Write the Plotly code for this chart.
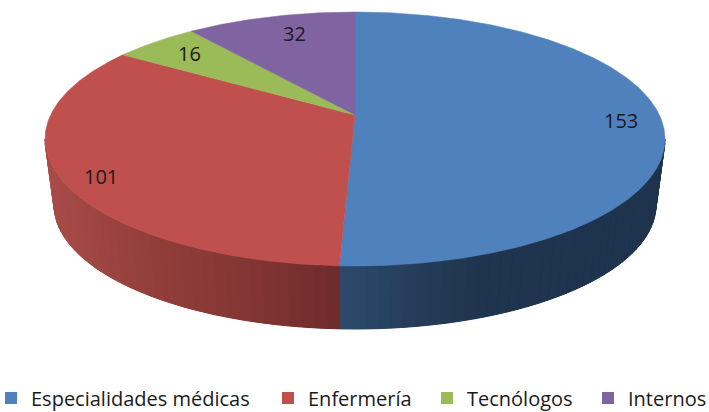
import numpy as np
import plotly.graph_objects as go

categories = ["Especialidades médicas", "Enfermería", "Tecnólogos", "Internos"]
values = [153, 101, 16, 32]

TOP_COLORS = ["#4F81BD", "#C0504D", "#9BBB59", "#8064A2"]
LABEL_SHIFT = [(6, -3), (-6, -10), (7, -2), (13, -4)]
LEGEND_TEXT_X = [31, 308, 467, 628]
FONT = "Open Sans"
FONT_SIZE = 20

# Tilted disc geometry (pixel-valued axes)
CX, CY, RX, RY = 355.0, 139.0, 310.0, 127.0
BCX, BCY, BRX, BRY = 355.0, 205.0, 301.0, 124.0
C = 0.189  # perspective: how far the disc centre appears above the ellipse centre


def project(t, r=1.0, cx=CX, cy=CY, rx=RX, ry=RY):
    """t: clockwise angle from 12 o'clock in degrees, r: fraction of radius."""
    a = np.radians(t)
    u, v = r * np.sin(a), r * np.cos(a)
    w = 1 + C * v
    return cx + rx * np.sqrt(1 - C**2) * u / w, cy - ry * (v + C) / w


def lerp_color(x, stops):
    xs = [s[0] for s in stops]
    rgb = [np.interp(x, xs, [s[1][i] for s in stops]) for i in range(3)]
    return "rgb(%d,%d,%d)" % tuple(round(c) for c in rgb)


BLUE_WALL = [(340, (44, 74, 108)), (400, (39, 64, 94)), (480, (31, 52, 78)), (670, (30, 51, 77))]
RED_WALL = [(45, (168, 76, 73)), (150, (146, 62, 59)), (260, (128, 52, 50)), (340, (110, 43, 42))]

total = sum(values)
edges = np.concatenate([[0], np.cumsum(values)]) / total * 360

fig = go.Figure()

# Side wall: a solid silhouette, then narrow bands so the shading runs across it
t_edge = 90 + np.degrees(np.arcsin(C))
for start, end, stops, base in [(t_edge, edges[1], BLUE_WALL, "rgb(32,54,81)"),
                                (edges[1], 360 - t_edge, RED_WALL, "rgb(135,55,53)")]:
    ts = np.linspace(start, end, 121)
    tx, ty = project(ts)
    bx, by = project(ts, 1, BCX, BCY, BRX, BRY)
    fig.add_trace(go.Scatter(
        x=np.concatenate([tx, bx[::-1], tx[:1]]), y=np.concatenate([ty, by[::-1], ty[:1]]),
        mode="lines", fill="toself", fillcolor=base, line=dict(width=0),
        hoverinfo="skip", showlegend=False))
    band_edges = np.linspace(start, end, max(2, int(round((end - start) / 2))) + 1)
    for t0, t1 in zip(band_edges[:-1], band_edges[1:]):
        seg = np.linspace(t0, t1, 5)
        sx, sy = project(seg)
        qx, qy = project(seg, 1, BCX, BCY, BRX, BRY)
        col = lerp_color(sx.mean(), stops)
        fig.add_trace(go.Scatter(
            x=np.concatenate([sx, qx[::-1], sx[:1]]), y=np.concatenate([sy, qy[::-1], sy[:1]]),
            mode="lines", fill="toself", fillcolor=col, line=dict(color=col, width=1),
            hoverinfo="skip", showlegend=False))

# Top face
for i, cat in enumerate(categories):
    ts = np.linspace(edges[i], edges[i + 1], max(3, int(edges[i + 1] - edges[i]) * 2))
    px, py = project(ts)
    ax, ay = project(0, 0)
    fig.add_trace(go.Scatter(
        x=np.concatenate([[ax], px, [ax]]), y=np.concatenate([[ay], py, [ay]]),
        mode="lines", fill="toself", fillcolor=TOP_COLORS[i],
        line=dict(color=TOP_COLORS[i], width=0.5), name=cat, showlegend=False))

# Legend entries, one legend each so every entry sits where the reference has it
legend_layout = {}
for i, cat in enumerate(categories):
    key = "legend" if i == 0 else f"legend{i + 1}"
    fig.add_trace(go.Scatter(
        x=[None], y=[None], mode="markers", name=cat, legend=key,
        marker=dict(symbol="square", size=12, color=TOP_COLORS[i])))
    legend_layout[key] = dict(
        x=(LEGEND_TEXT_X[i] - 40) / 709, y=(412 - 398) / 412,
        xanchor="left", yanchor="middle", itemsizing="constant", itemwidth=30,
        bgcolor="rgba(0,0,0,0)", font=dict(family=FONT, size=FONT_SIZE, color="#1a1a1a"))

# Data labels
for i, val in enumerate(values):
    lx, ly = project((edges[i] + edges[i + 1]) / 2, 0.85)
    fig.add_annotation(x=lx, y=ly, text=str(val), showarrow=False,
                       xshift=LABEL_SHIFT[i][0], yshift=LABEL_SHIFT[i][1],
                       font=dict(family=FONT, size=FONT_SIZE, color="#1a1a1a"))

# The page is a little taller than the window so the legend's box is not cut short;
# the plot area itself stays 709x412.
fig.update_layout(
    width=709, height=432,
    margin=dict(l=0, r=0, t=0, b=20, autoexpand=False),
    paper_bgcolor="white", plot_bgcolor="white",
    xaxis=dict(range=[0, 709], visible=False, fixedrange=True),
    yaxis=dict(range=[412, 0], visible=False, fixedrange=True),
    font=dict(family=FONT, size=FONT_SIZE, color="#1a1a1a"),
    **legend_layout,
)

fig.write_html("out.html", config={"displayModeBar": False},
               post_script="document.body.style.margin='0';document.documentElement.style.overflow='hidden';")
